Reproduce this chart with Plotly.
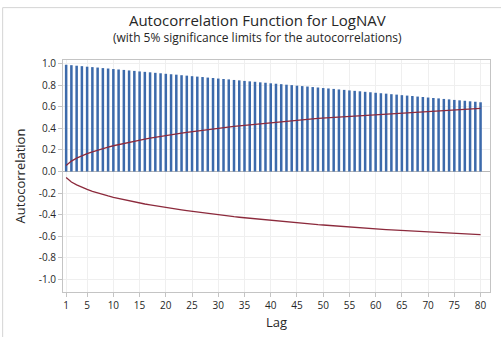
import plotly.graph_objects as go

lags = list(range(1, 81))
acf = [0.990, 0.986, 0.981, 0.977, 0.972, 0.968, 0.964, 0.959, 0.955, 0.950,
       0.946, 0.942, 0.937, 0.933, 0.928, 0.924, 0.920, 0.915, 0.911, 0.906,
       0.902, 0.898, 0.893, 0.889, 0.884, 0.880, 0.876, 0.871, 0.867, 0.862,
       0.858, 0.854, 0.849, 0.845, 0.840, 0.836, 0.832, 0.827, 0.823, 0.818,
       0.814, 0.810, 0.805, 0.801, 0.796, 0.792, 0.788, 0.783, 0.779, 0.774,
       0.770, 0.766, 0.761, 0.757, 0.752, 0.748, 0.744, 0.739, 0.735, 0.730,
       0.726, 0.722, 0.717, 0.713, 0.708, 0.704, 0.700, 0.695, 0.691, 0.686,
       0.682, 0.678, 0.673, 0.669, 0.664, 0.660, 0.656, 0.651, 0.647, 0.642]
upper = [0.056, 0.097, 0.124, 0.147, 0.166, 0.183, 0.199, 0.213, 0.226, 0.239,
         0.250, 0.261, 0.272, 0.282, 0.291, 0.301, 0.309, 0.318, 0.326, 0.334,
         0.342, 0.349, 0.356, 0.363, 0.370, 0.377, 0.383, 0.390, 0.396, 0.402,
         0.407, 0.413, 0.419, 0.424, 0.429, 0.434, 0.440, 0.445, 0.449, 0.454,
         0.459, 0.463, 0.468, 0.472, 0.476, 0.480, 0.485, 0.489, 0.493, 0.496,
         0.500, 0.504, 0.508, 0.511, 0.515, 0.518, 0.522, 0.525, 0.528, 0.532,
         0.535, 0.538, 0.541, 0.544, 0.547, 0.550, 0.552, 0.555, 0.558, 0.561,
         0.563, 0.566, 0.569, 0.571, 0.573, 0.576, 0.578, 0.581, 0.583, 0.585]
lower = [-v for v in upper]

x_ticks = [1, 5, 10, 15, 20, 25, 30, 35, 40, 45, 50, 55, 60, 65, 70, 75, 80]
y_ticks = [1.0, 0.8, 0.6, 0.4, 0.2, 0.0, -0.2, -0.4, -0.6, -0.8, -1.0]
y_labels = ["1.0", "0.8", "0.6", "0.4", "0.2", "0.0", "-0.2", "-0.4", "-0.6", "-0.8", "-1.0"]
title_text = "Autocorrelation Function for LogNAV"
subtitle_text = "(with 5% significance limits for the autocorrelations)"

FONT = "Open Sans"
TXT = "#262626"
fig = go.Figure()
fig.add_trace(go.Bar(x=lags, y=acf, width=0.48, marker=dict(color="#3c6aab", line=dict(width=0))))
fig.add_trace(go.Scatter(x=lags, y=upper, mode="lines", line=dict(color="#8c2a3c", width=1.3)))
fig.add_trace(go.Scatter(x=lags, y=lower, mode="lines", line=dict(color="#8c2a3c", width=1.3)))

L, R, T, B = 63, 10, 60, 40
W, H = 501, 337
pw, ph = W - L - R, H - T - B

def px_x(px):
    return (px - L) / pw

def px_y(py):
    return (H - B - py) / ph

fig.update_layout(
    width=W, height=H,
    margin=dict(l=L, r=R, t=T, b=B),
    paper_bgcolor="white", plot_bgcolor="white",
    showlegend=False,
    font=dict(family=FONT, color=TXT, size=10),
    annotations=[
        dict(text=("<span style='font-size:15px'>" + title_text + "</span><br>"
                   "<span style='font-size:12px'>" + subtitle_text + "</span>"),
             xref="paper", yref="paper",
             x=px_x(257.5), y=px_y(27.5), xanchor="center", yanchor="middle", showarrow=False,
             align="center", font=dict(size=12, color=TXT, family=FONT)),
    ],
    shapes=[
        dict(type="line", xref="paper", yref="paper", x0=px_x(2.5), x1=px_x(520), y0=px_y(6.5), y1=px_y(6.5),
             line=dict(color="#d4d4d4", width=1)),
        dict(type="line", xref="paper", yref="paper", x0=px_x(2.5), x1=px_x(2.5), y0=px_y(6.5), y1=px_y(350),
             line=dict(color="#d4d4d4", width=1)),
    ],
)
fig.update_xaxes(
    range=[0.4, 81.8], tickvals=x_ticks, ticktext=[str(v) for v in x_ticks],
    showgrid=True, gridcolor="#efefef", gridwidth=1,
    showline=True, linecolor="#c4c4c4", linewidth=1, mirror=True,
    ticks="outside", ticklen=4, tickcolor="#c4c4c4",
    tickfont=dict(size=10, color=TXT, family=FONT),
    title=dict(text="Lag", font=dict(size=13, color=TXT, family=FONT), standoff=6),
    zeroline=False,
)
fig.update_yaxes(
    range=[-1.117, 1.034], tickvals=y_ticks, ticktext=y_labels,
    showgrid=True, gridcolor="#efefef", gridwidth=1,
    showline=True, linecolor="#c4c4c4", linewidth=1, mirror=True,
    ticks="outside", ticklen=4, tickcolor="#c4c4c4",
    tickfont=dict(size=10, color=TXT, family=FONT),
    title=dict(text="Autocorrelation", font=dict(size=13, color=TXT, family=FONT), standoff=10),
    zeroline=True, zerolinecolor="#b8b8b8", zerolinewidth=1,
)
fig.write_html("out.html")
